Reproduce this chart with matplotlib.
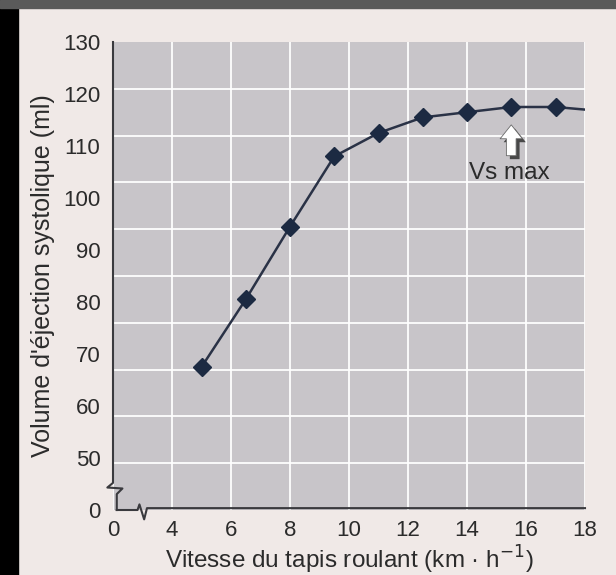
import numpy as np
import matplotlib.pyplot as plt
import matplotlib.patheffects as pe
from matplotlib.patches import Rectangle

plt.rcParams['font.family'] = ['Liberation Sans', 'DejaVu Sans']

# vitesse (km/h) et volume d'éjection systolique (ml)
vitesse = [5.0, 6.5, 8.0, 9.5, 11.0, 12.5, 14.0, 15.5, 17.0]
volume = [67.5, 80.5, 94.5, 108.0, 112.5, 115.5, 116.5, 117.5, 117.5]
# la courbe continue jusqu'au bord
fin_x = 18.0
fin_y = 117.0

xticks = [2, 4, 6, 8, 10, 12, 14, 16, 18]
xlabels = ['0', '4', '6', '8', '10', '12', '14', '16', '18']
yticks = [40, 50, 60, 70, 80, 90, 100, 110, 120, 130]
ylabels = ['0', '50', '60', '70', '80', '90', '100', '110', '120', '130']

fond = '#f0e9e7'
gris = '#c8c5c9'
bleu = '#1c2a42'
trait = '#3a3a3e'
texte = '#2b2b2b'

fig = plt.figure(figsize=(6.16, 5.75), dpi=100, facecolor=fond)
# bords de la photo
fig.patches.append(Rectangle((0, 0), 18 / 616, 1, transform=fig.transFigure,
                             color='black', zorder=0))
fig.patches.append(Rectangle((0, 1 - 8 / 575), 1, 8 / 575, transform=fig.transFigure,
                             color='#5a5a5a', zorder=0))

ax = fig.add_axes([113 / 616, 1 - 510 / 575, 472 / 616, 468 / 575])
ax.set_facecolor(gris)
ax.set_xlim(2, 18)
ax.set_ylim(40, 130)

ax.set_xticks(xticks)
ax.set_xticklabels(xlabels)
ax.set_yticks(yticks)
ax.set_yticklabels(ylabels)
ax.set_yticks(np.linspace(40, 130, 11)[1:-1], minor=True)
ax.tick_params(which='both', length=0, labelsize=16, colors=texte)
ax.tick_params(axis='x', pad=7)
ax.tick_params(axis='y', pad=9)

ax.grid(which='major', axis='x', color='white', lw=1.4, alpha=0.9)
ax.grid(which='minor', axis='y', color='white', lw=1.4, alpha=0.9)
ax.set_axisbelow(True)

for s in ax.spines.values():
    s.set_visible(False)

# axes avec coupures
ax.plot([0, 0, -0.012, 0.02, 0.008, 0.008], [1, 0.058, 0.048, 0.046, 0.034, 0],
        transform=ax.transAxes, color=trait, lw=1.5, clip_on=False)
ax.plot([0.008, 0.052, 0.056, 0.066, 0.072, 1], [0, 0, 0.012, -0.02, 0.004, 0.004],
        transform=ax.transAxes, color=trait, lw=1.5, clip_on=False)

ax.plot(vitesse + [fin_x], volume + [fin_y], color='#2a3246', lw=1.8, zorder=3)
ax.plot(vitesse, volume, 'D', color=bleu, ms=9, zorder=4)

ax.annotate('', xy=(15.5, 114.6), xytext=(15.5, 107.6),
            arrowprops=dict(arrowstyle='simple,head_width=1.6,head_length=1.0,tail_width=0.7',
                            fc='white', ec='#6a6a6a', lw=0.6,
                            path_effects=[pe.withSimplePatchShadow(offset=(2.5, -2.5), shadow_rgbFace='#3a3a3a', alpha=0.9)]))
ax.text(15.45, 104.8, 'Vs max', fontsize=17.5, color=texte, ha='center', va='center')

ax.set_xlabel('Vitesse du tapis roulant (km · h$^{-1}$)', fontsize=17.5, color=texte, labelpad=2)
ax.set_ylabel("Volume d'éjection systolique (ml)", fontsize=18, color=texte, labelpad=6)

plt.savefig('out.png', dpi=100, facecolor=fond)
